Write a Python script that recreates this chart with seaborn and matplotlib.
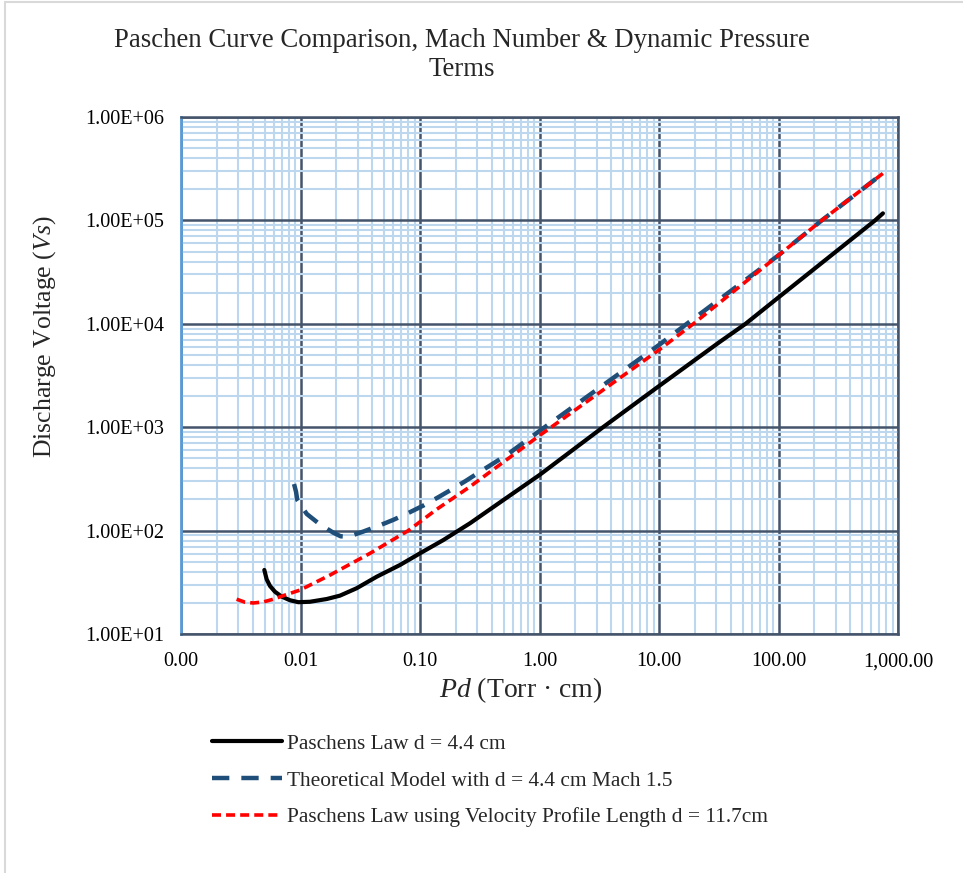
import numpy as np
import pandas as pd
import matplotlib
matplotlib.use("Agg")
import matplotlib.pyplot as plt
from matplotlib.ticker import LogLocator, NullFormatter, FixedLocator, FixedFormatter
from matplotlib.lines import Line2D
import seaborn as sns

# Paschen's law, gap d = 4.4 cm
pd_paschen = [0.00498, 0.00521, 0.00556, 0.00612, 0.00696, 0.00817, 0.0096, 0.0120,
              0.0166, 0.0214, 0.0295, 0.0434, 0.068, 0.1, 0.157, 0.262, 0.5, 1.0,
              3.4, 10.0, 32.4, 53.0, 100.0, 643.0, 748.0]
v_paschen = [41.6, 33.8, 29.1, 25.6, 23.0, 21.2, 20.3, 20.5,
             21.8, 23.5, 27.7, 35.8, 46.5, 60.3, 81.1, 117.7, 198, 345,
             1000, 2500, 6710, 10000, 18000, 100000, 117000]

# Theoretical model, d = 4.4 cm, Mach 1.5
pd_model = [0.00883, 0.00917, 0.0094, 0.01127, 0.01437, 0.01882, 0.02168, 0.0251,
            0.0336, 0.0457, 0.0598, 0.0798, 0.107, 0.142, 0.184, 0.241, 0.318, 0.531,
            1.0, 10.0, 17.1, 100.0, 230.0, 748.0]
v_model = [282, 238, 198, 145, 116, 95.5, 88.1, 87.3,
           98, 112, 127, 148, 175, 210, 250, 302, 371, 538,
           920, 6240, 10000, 46000, 100000, 285000]

# Paschen's law using the velocity profile length d = 11.7 cm
pd_profile = [0.00292, 0.00343, 0.00403, 0.00488, 0.00592, 0.00742, 0.00991, 0.0177,
              0.0382, 0.0798, 0.138, 0.262, 1.0, 10.0, 19.4, 100.0, 230.0, 748.0]
v_profile = [21.7, 20.3, 19.95, 20.4, 21.7, 23.8, 26.6, 37.2,
             60.3, 100, 160.7, 266, 830, 5590, 10000, 46000, 100000, 285000]

series_labels = [
    "Paschens Law d = 4.4 cm",
    "Theoretical Model with d = 4.4 cm Mach 1.5",
    "Paschens Law using Velocity Profile Length d = 11.7cm",
]

x_ticks = [0.001, 0.01, 0.1, 1, 10, 100, 1000]
x_tick_labels = ["0.00", "0.01", "0.10", "1.00", "10.00", "100.00", "1,000.00"]
y_ticks = [1e1, 1e2, 1e3, 1e4, 1e5, 1e6]
y_tick_labels = ["1.00E+01", "1.00E+02", "1.00E+03", "1.00E+04", "1.00E+05", "1.00E+06"]

sns.set_style("white")
plt.rcParams["font.family"] = ["Liberation Serif", "DejaVu Serif"]
plt.rcParams["mathtext.fontset"] = "custom"
plt.rcParams["mathtext.rm"] = "Liberation Serif"
plt.rcParams["mathtext.it"] = "Liberation Serif:italic"

fig = plt.figure(figsize=(9.63, 8.73), dpi=100)
ax = fig.add_axes([181 / 963, 1 - 634 / 873, (898 - 181) / 963, (634 - 117) / 873])

df_a = pd.DataFrame({"Pd": pd_paschen, "V": v_paschen})
df_b = pd.DataFrame({"Pd": pd_model, "V": v_model})
df_c = pd.DataFrame({"Pd": pd_profile, "V": v_profile})

sns.lineplot(data=df_a, x="Pd", y="V", ax=ax, color="black", lw=3.0,
             errorbar=None, label=series_labels[0], solid_capstyle="round",
             solid_joinstyle="round")
sns.lineplot(data=df_b, x="Pd", y="V", ax=ax, color="#1F4E79", lw=3.2,
             errorbar=None, label=series_labels[1], linestyle=(0, (3.9, 2.7)),
             dash_capstyle="butt")
sns.lineplot(data=df_c, x="Pd", y="V", ax=ax, color="#FF0000", lw=2.6,
             errorbar=None, label=series_labels[2], linestyle=(0, (2.5, 1.4)),
             dash_capstyle="butt")

ax.set_xscale("log")
ax.set_yscale("log")
ax.set_xlim(0.001, 1000)
ax.set_ylim(10, 1e6)

ax.xaxis.set_major_locator(FixedLocator(x_ticks))
ax.xaxis.set_major_formatter(FixedFormatter(x_tick_labels))
ax.yaxis.set_major_locator(FixedLocator(y_ticks))
ax.yaxis.set_major_formatter(FixedFormatter(y_tick_labels))
ax.xaxis.set_minor_locator(LogLocator(base=10, subs=np.arange(2, 10), numticks=100))
ax.yaxis.set_minor_locator(LogLocator(base=10, subs=np.arange(2, 10), numticks=100))
ax.xaxis.set_minor_formatter(NullFormatter())
ax.yaxis.set_minor_formatter(NullFormatter())

ax.set_axisbelow(True)
ax.grid(which="minor", color="#BDD7EE", lw=1.5)
ax.grid(which="major", color="#44546A", lw=1.8)
ax.tick_params(which="both", length=0, labelsize=14.5, colors="black")
ax.tick_params(axis="x", pad=13)
ax.tick_params(axis="y", pad=12)

for side in ["top", "right", "bottom"]:
    ax.spines[side].set_color("#44546A")
    ax.spines[side].set_linewidth(1.8)
ax.spines["left"].set_color("#5B9BD5")
ax.spines["left"].set_linewidth(2.0)

ax.set_xlabel("$Pd$ (Torr · cm)", fontsize=20)
ax.set_ylabel("Discharge Voltage ($Vs$)", fontsize=18.5)
ax.xaxis.set_label_coords((521 - 181) / 717, (634 - 690) / 517)
ax.xaxis.label.set_va("center")
ax.yaxis.set_label_coords((45 - 181) / 717, (634 - 337) / 517)
ax.yaxis.label.set_va("center")

fig.text(0.48, 1 - 55 / 873,
         "Paschen Curve Comparison, Mach Number & Dynamic Pressure\nTerms",
         ha="center", va="center", fontsize=19.3, linespacing=1.26)

handles, labels = ax.get_legend_handles_labels()
ax.get_legend().remove()
fig.legend(handles, labels, loc="upper left", bbox_to_anchor=(0.2201, 1 - 734 / 873),
           frameon=False, fontsize=15.4, handlelength=3.27, handletextpad=0.23,
           labelspacing=0.78, borderpad=0, borderaxespad=0)

# outer chart border (left and top edges)
fig.add_artist(Line2D([5 / 963, 5 / 963], [0, 1 - 2 / 873], transform=fig.transFigure,
                      color="#D9D9D9", lw=1.5))
fig.add_artist(Line2D([5 / 963, 1], [1 - 2 / 873, 1 - 2 / 873], transform=fig.transFigure,
                      color="#D9D9D9", lw=1.5))

fig.savefig("out.png", dpi=100)
